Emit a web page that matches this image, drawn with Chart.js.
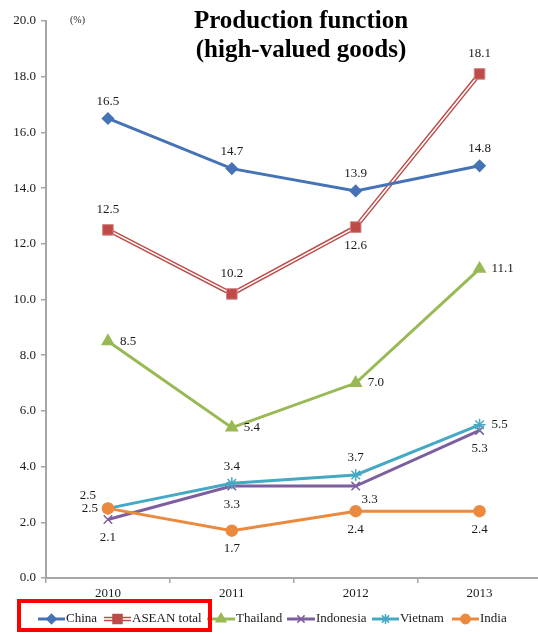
<!DOCTYPE html>
<html><head><meta charset="utf-8">
<script src="https://cdn.jsdelivr.net/npm/chart.js@4/dist/chart.umd.min.js"></script>
<style>html,body{margin:0;padding:0;overflow:hidden;background:#fff;width:538px;height:634px}canvas{display:block}</style>
</head><body><canvas id="c" width="550" height="634"></canvas>
<script>
const years = ['2010', '2011', '2012', '2013'];
const china = [16.5, 14.7, 13.9, 14.8];
const asean = [12.5, 10.2, 12.6, 18.1];
const thailand = [8.5, 5.4, 7.0, 11.1];
const indonesia = [2.1, 3.3, 3.3, 5.3];
const vietnam = [2.5, 3.4, 3.7, 5.5];
const india = [2.5, 1.7, 2.4, 2.4];
const seriesNames = ['China', 'ASEAN total', 'Thailand', 'Indonesia', 'Vietnam', 'India'];
const yTicks = [0, 2, 4, 6, 8, 10, 12, 14, 16, 18, 20];

const FONT = '"Liberation Serif", "Times New Roman", serif';
const C = {china:'#4573B5', asean:'#BE4B48', thai:'#98B954', indo:'#7D5FA0', viet:'#46A9C4', india:'#EB8A3E'};

// label placement per series (t=top, b=bottom, r=right, l=left, tl, br)
const labelPlace = [
  ['t','t','t','t'],
  ['t2','t2','b','t2'],
  ['r','r','r','r'],
  ['b','b','br','b'],
  ['tl','t','t','r'],
  ['l','b','b','b']
];
const labelSeriesIdx = [0, 3, 4, 5, 6, 7]; // dataset indices carrying labels/markers

const markerStyles = [
  {pointStyle:'rectRot', radius:5.5, color:C.china},
  {pointStyle:'rect', radius:7.5, color:C.asean},
  {pointStyle:'triangle', radius:6.5, color:C.thai},
  {pointStyle:'crossRot', radius:6, color:C.indo},
  {pointStyle:'star', radius:6, color:C.viet},
  {pointStyle:'circle', radius:5.5, color:C.india}
];

function lineDs(label, data, color, style, radius, order, extra) {
  return Object.assign({
    label, data, borderColor: color, backgroundColor: color,
    borderWidth: 3, pointStyle: style, pointRadius: radius, pointHoverRadius: radius,
    pointBorderColor: color, pointBackgroundColor: color, pointBorderWidth: 1.5,
    tension: 0, order
  }, extra || {});
}

const datasets = [
  lineDs('China', china, C.china, 'rectRot', 5.5, 1),
  lineDs('ASEAN red', asean, C.asean, 'rect', 0, 9, {borderWidth: 4.5}),
  lineDs('ASEAN white', asean, '#ffffff', 'rect', 0, 8, {borderWidth: 1.6}),
  lineDs('ASEAN total', asean, C.asean, 'rect', 7.5, 7, {showLine: false, pointBorderColor:'#D08A88', pointBorderWidth:1}),
  lineDs('Thailand', thailand, C.thai, 'triangle', 6.5, 5),
  lineDs('Indonesia', indonesia, C.indo, 'crossRot', 6, 4, {pointBorderWidth: 1.5}),
  lineDs('Vietnam', vietnam, C.viet, 'star', 6, 3, {pointBorderWidth: 1.5}),
  lineDs('India', india, C.india, 'circle', 5.5, 2)
];

const extras = {
  id: 'extras',
  afterDraw(chart) {
    const ctx = chart.ctx;
    ctx.save();
    // data labels
    ctx.font = '13px ' + FONT;
    ctx.fillStyle = '#1a1a1a';
    labelSeriesIdx.forEach((di, si) => {
      const meta = chart.getDatasetMeta(di);
      const data = chart.data.datasets[di].data;
      meta.data.forEach((pt, i) => {
        const txt = data[i].toFixed(1);
        const p = labelPlace[si][i];
        let x = pt.x, y = pt.y, align = 'center';
        if (p === 't') y -= 17;
        else if (p === 't2') y -= 20;
        else if (p === 'b') y += 18;
        else if (p === 'r') { x += 12; align = 'left'; }
        else if (p === 'l') { x -= 10; align = 'right'; }
        else if (p === 'tl') { x -= 20; y -= 13; }
        else if (p === 'br') { x += 14; y += 13; }
        ctx.textAlign = align;
        ctx.textBaseline = 'middle';
        ctx.fillText(txt, x, y);
      });
    });
    // title
    ctx.fillStyle = '#000';
    ctx.textAlign = 'center';
    ctx.textBaseline = 'alphabetic';
    ctx.font = 'bold 25px ' + FONT;
    ctx.fillText('Production function', 301, 28);
    ctx.fillText('(high-valued goods)', 301, 57);
    // unit
    ctx.font = '10px ' + FONT;
    ctx.fillStyle = '#222';
    ctx.textAlign = 'left';
    ctx.textBaseline = 'middle';
    ctx.fillText('(%)', 70, 20);
    // legend
    const legendItems = [
      {x0:38, x1:65, tx:66},
      {x0:104, x1:131, tx:132},
      {x0:207, x1:235, tx:236},
      {x0:287, x1:315, tx:316},
      {x0:372, x1:399, tx:400},
      {x0:452, x1:479, tx:480}
    ];
    const ly = 619;
    legendItems.forEach((it, k) => {
      const m = markerStyles[k];
      ctx.lineCap = 'butt';
      if (k === 1) {
        ctx.strokeStyle = m.color; ctx.lineWidth = 4.5;
        ctx.beginPath(); ctx.moveTo(it.x0, ly); ctx.lineTo(it.x1, ly); ctx.stroke();
        ctx.strokeStyle = '#fff'; ctx.lineWidth = 1.6;
        ctx.beginPath(); ctx.moveTo(it.x0, ly); ctx.lineTo(it.x1, ly); ctx.stroke();
      } else {
        ctx.strokeStyle = m.color; ctx.lineWidth = 3;
        ctx.beginPath(); ctx.moveTo(it.x0, ly); ctx.lineTo(it.x1, ly); ctx.stroke();
      }
      ctx.fillStyle = m.color; ctx.strokeStyle = m.color; ctx.lineWidth = 1.5;
      Chart.helpers.drawPoint(ctx, {pointStyle: m.pointStyle, radius: m.radius * 0.85, rotation: 0, borderWidth: 1.5}, (it.x0 + it.x1) / 2, ly);
      ctx.fillStyle = '#1a1a1a';
      ctx.font = '13px ' + FONT;
      ctx.textAlign = 'left';
      ctx.textBaseline = 'middle';
      ctx.fillText(seriesNames[k], it.tx, ly);
    });
    // red highlight box
    ctx.strokeStyle = '#FF0000';
    ctx.lineWidth = 4;
    ctx.strokeRect(19, 601, 191, 29);
    ctx.restore();
  }
};

new Chart(document.getElementById('c'), {
  type: 'line',
  data: { labels: years, datasets },
  options: {
    responsive: false,
    animation: false,
    layout: { padding: { top: 21, right: 0, bottom: 0, left: 0 } },
    plugins: { legend: { display: false }, tooltip: { enabled: false }, title: { display: false } },
    scales: {
      x: {
        type: 'category',
        offset: true,
        grid: { offset: true, drawOnChartArea: false, drawTicks: true, tickLength: 5, color: '#A6A6A6', lineWidth: 1.5 },
        border: { color: '#A6A6A6', width: 2 },
        ticks: { font: { family: FONT, size: 13 }, color: '#1a1a1a', padding: 3 },
        afterFit(s) { s.height = 56; }
      },
      y: {
        min: 0, max: 20,
        afterBuildTicks(s) { s.ticks = yTicks.map(v => ({ value: v })); },
        grid: { drawOnChartArea: false, drawTicks: true, tickLength: 5, color: '#A6A6A6', lineWidth: 1.5 },
        border: { color: '#A6A6A6', width: 2 },
        ticks: { font: { family: FONT, size: 13 }, color: '#1a1a1a', padding: 5, callback: v => Number(v).toFixed(1) },
        afterFit(s) { s.width = 46; }
      }
    }
  },
  plugins: [extras]
});
</script></body></html>
